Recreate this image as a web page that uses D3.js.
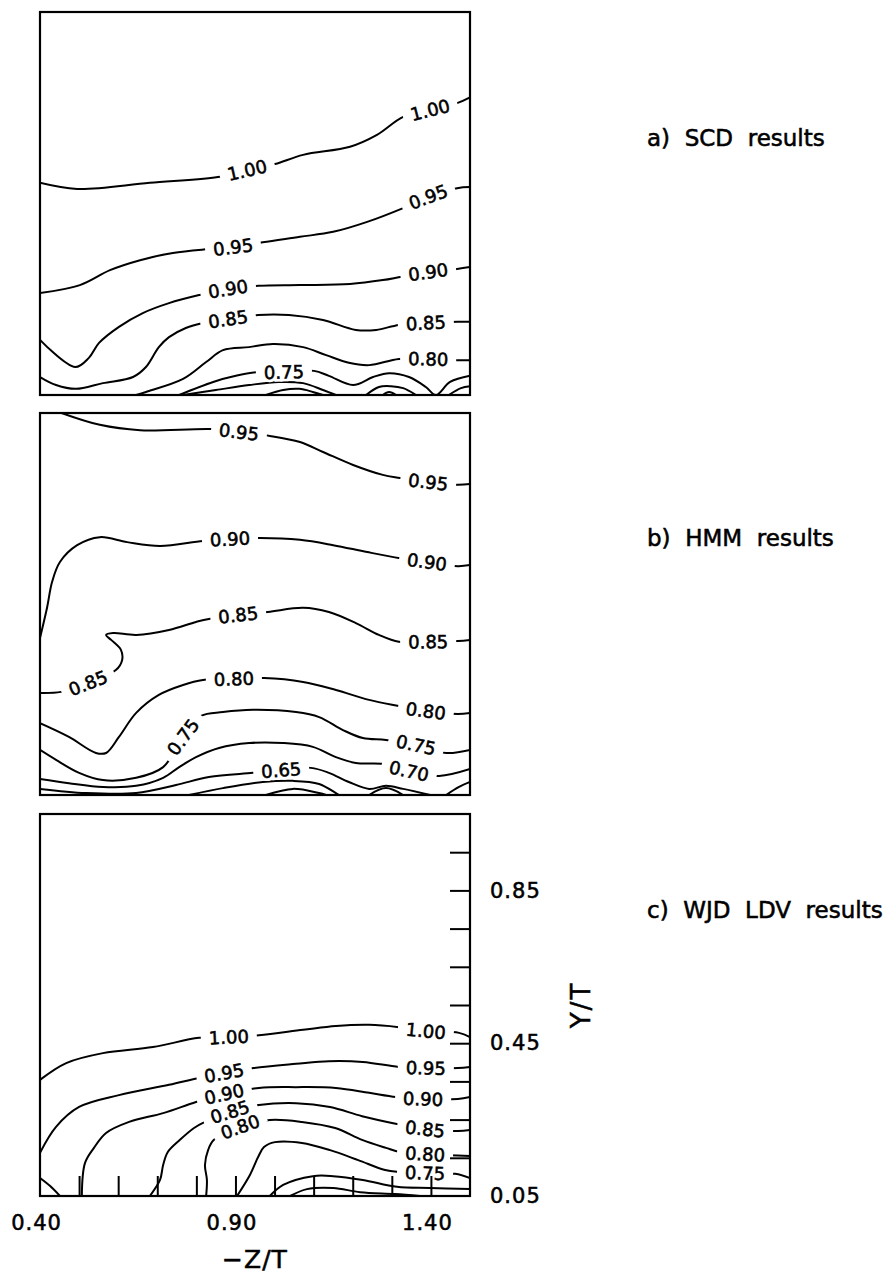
<!DOCTYPE html>
<html><head><meta charset="utf-8">
<script src="https://cdn.jsdelivr.net/npm/d3@7"></script>
<style>
html,body{margin:0;padding:0;background:#fff;}
svg{display:block;}
text{font-family:"DejaVu Sans",sans-serif;fill:#000;}
.ink{stroke:#000;stroke-width:0.55px;}
</style></head><body>
<svg id="chart" width="892" height="1275"></svg>
<script>
// ---------------- data ----------------
const xDomain = [0.40, 1.50];          // -Z/T
const yDomain = [0.05, 1.05];          // Y/T
const xTickLabels = [0.40, 0.90, 1.40];
const xMinorTicks = [0.5, 0.6, 0.7, 0.8, 0.9, 1.0, 1.1, 1.2, 1.3, 1.4];
const yTickLabels = [0.05, 0.45, 0.85];
const yMinorTicks = [0.15, 0.25, 0.35, 0.45, 0.55, 0.65, 0.75, 0.85, 0.95];
const panelTitles = ["a)  SCD  results", "b)  HMM  results", "c)  WJD  LDV  results"];

// a) SCD results : contour lines [z, y]
const scdContours = [
  {level:1.00, pts:[[0.400,0.604],[0.495,0.588],[0.681,0.604],[0.855,0.619],[0.930,0.637],[1.001,0.653],[1.073,0.677],[1.193,0.698],[1.262,0.729],[1.329,0.776],[1.398,0.794],[1.467,0.812],[1.500,0.827]]},
  {level:0.95, pts:[[0.400,0.316],[0.502,0.337],[0.579,0.376],[0.656,0.402],[0.740,0.421],[0.830,0.431],[0.894,0.436],[0.970,0.449],[1.065,0.463],[1.150,0.476],[1.237,0.502],[1.329,0.538],[1.393,0.567],[1.467,0.590],[1.500,0.593]]},
  {level:0.90, pts:[[0.400,0.194],[0.490,0.123],[0.525,0.147],[0.551,0.186],[0.602,0.228],[0.663,0.264],[0.730,0.290],[0.807,0.311],[0.881,0.327],[0.958,0.335],[1.065,0.337],[1.193,0.340],[1.277,0.350],[1.321,0.358],[1.393,0.371],[1.467,0.379],[1.500,0.384]]},
  {level:0.85, pts:[[0.400,0.097],[0.441,0.076],[0.492,0.066],[0.561,0.081],[0.638,0.097],[0.671,0.123],[0.704,0.175],[0.730,0.201],[0.773,0.225],[0.817,0.238],[0.881,0.248],[0.958,0.259],[1.037,0.259],[1.124,0.246],[1.208,0.220],[1.260,0.220],[1.318,0.233],[1.387,0.238],[1.469,0.241],[1.500,0.241]]},
  {level:0.80, pts:[[0.646,0.050],[0.671,0.058],[0.766,0.092],[0.825,0.136],[0.868,0.167],[0.935,0.175],[0.996,0.183],[1.073,0.175],[1.132,0.154],[1.190,0.134],[1.242,0.128],[1.318,0.144],[1.393,0.144],[1.469,0.141],[1.500,0.141]]},
  {level:0.75, pts:[[0.756,0.050],[0.843,0.084],[0.901,0.100],[0.960,0.110],[1.024,0.110],[1.101,0.113],[1.139,0.100],[1.201,0.076],[1.252,0.097],[1.293,0.107],[1.344,0.097],[1.387,0.071],[1.413,0.050],[1.449,0.084],[1.500,0.100]]},
  {level:0.70, pts:[[0.766,0.050],[0.850,0.063],[0.935,0.076],[1.011,0.084],[1.073,0.081],[1.124,0.063],[1.157,0.050]]},
  {level:0.70, pts:[[1.234,0.050],[1.267,0.071],[1.298,0.073],[1.329,0.068],[1.362,0.050]]},
  {level:0.70, pts:[[1.446,0.050],[1.477,0.068],[1.500,0.073]]},
  {level:0.65, pts:[[0.978,0.050],[1.022,0.063],[1.063,0.066],[1.098,0.058],[1.124,0.050]]},
  {level:0.65, pts:[[1.277,0.050],[1.293,0.058],[1.311,0.050]]}
];
const scdLabels = [[1.00,0.930,0.637],[1.00,1.398,0.794],[0.95,0.894,0.436],[0.95,1.393,0.567],
  [0.90,0.881,0.327],[0.90,1.393,0.371],[0.85,0.881,0.248],[0.85,1.387,0.238],[0.80,1.393,0.144],[0.75,1.024,0.110]];

// b) HMM results
const hmmContours = [
  {level:0.95, pts:[[0.455,1.050],[0.553,1.019],[0.656,1.005],[0.843,1.008],[0.909,1.000],[0.988,0.990],[1.065,0.974],[1.124,0.948],[1.201,0.914],[1.277,0.888],[1.321,0.880],[1.393,0.869],[1.469,0.862],[1.500,0.864]]},
  {level:0.90, pts:[[0.400,0.461],[0.418,0.540],[0.431,0.608],[0.451,0.660],[0.495,0.704],[0.553,0.725],[0.623,0.712],[0.707,0.702],[0.817,0.715],[0.886,0.720],[0.963,0.723],[1.065,0.718],[1.150,0.704],[1.237,0.686],[1.321,0.670],[1.390,0.660],[1.469,0.649],[1.500,0.652]]},
  {level:0.85, pts:[[0.400,0.317],[0.454,0.320],[0.523,0.343],[0.594,0.377],[0.610,0.403],[0.607,0.430],[0.582,0.456],[0.569,0.469],[0.587,0.474],[0.646,0.469],[0.730,0.482],[0.799,0.503],[0.832,0.511],[0.907,0.521],[0.983,0.529],[1.073,0.540],[1.139,0.529],[1.208,0.500],[1.267,0.469],[1.318,0.451],[1.393,0.451],[1.469,0.453],[1.500,0.456]]},
  {level:0.80, pts:[[0.400,0.238],[0.474,0.202],[0.543,0.160],[0.569,0.160],[0.602,0.202],[0.646,0.265],[0.704,0.312],[0.766,0.338],[0.817,0.351],[0.896,0.354],[0.973,0.356],[1.073,0.346],[1.157,0.325],[1.242,0.299],[1.318,0.283],[1.387,0.270],[1.469,0.262],[1.500,0.265]]},
  {level:0.75, pts:[[0.400,0.168],[0.441,0.142],[0.500,0.108],[0.561,0.089],[0.646,0.095],[0.715,0.123],[0.766,0.202],[0.812,0.257],[0.868,0.267],[0.945,0.273],[1.055,0.267],[1.114,0.254],[1.175,0.220],[1.226,0.199],[1.285,0.194],[1.362,0.181],[1.439,0.160],[1.500,0.168]]},
  {level:0.70, pts:[[0.400,0.092],[0.474,0.081],[0.561,0.071],[0.646,0.074],[0.715,0.095],[0.756,0.123],[0.799,0.149],[0.858,0.173],[0.935,0.186],[1.022,0.186],[1.098,0.176],[1.157,0.149],[1.208,0.134],[1.285,0.131],[1.344,0.113],[1.421,0.100],[1.500,0.118]]},
  {level:0.65, pts:[[0.400,0.066],[0.518,0.055],[0.646,0.055],[0.748,0.076],[0.832,0.097],[0.945,0.108],[1.017,0.115],[1.093,0.121],[1.139,0.108],[1.190,0.084],[1.242,0.066],[1.285,0.074],[1.329,0.066],[1.398,0.050]]},
  {level:0.65, pts:[[1.439,0.050],[1.472,0.071],[1.500,0.084]]},
  {level:0.60, pts:[[0.781,0.050],[0.868,0.068],[0.970,0.084],[1.047,0.087],[1.114,0.079],[1.157,0.055],[1.165,0.050]]},
  {level:0.60, pts:[[1.242,0.050],[1.285,0.068],[1.329,0.050]]},
  {level:0.55, pts:[[0.978,0.050],[1.047,0.066],[1.114,0.055],[1.132,0.050]]}
];
const hmmLabels = [[0.95,0.909,1.000],[0.95,1.393,0.869],[0.90,0.886,0.720],[0.90,1.390,0.660],
  [0.85,0.523,0.343],[0.85,0.907,0.521],[0.85,1.393,0.451],[0.80,0.896,0.354],[0.80,1.387,0.270],
  [0.75,0.766,0.202],[0.75,1.362,0.181],[0.70,1.344,0.113],[0.65,1.017,0.115]];

// c) WJD LDV results
const ldvContours = [
  {level:1.00, pts:[[0.400,0.354],[0.467,0.398],[0.561,0.424],[0.689,0.440],[0.807,0.464],[0.883,0.466],[0.960,0.471],[1.073,0.485],[1.157,0.495],[1.242,0.498],[1.318,0.492],[1.387,0.482],[1.472,0.477],[1.500,0.466]]},
  {level:0.95, pts:[[0.400,0.163],[0.441,0.231],[0.500,0.283],[0.602,0.314],[0.730,0.341],[0.807,0.359],[0.871,0.372],[0.947,0.385],[1.055,0.396],[1.139,0.403],[1.226,0.401],[1.318,0.388],[1.387,0.385],[1.469,0.385],[1.500,0.388]]},
  {level:0.90, pts:[[0.507,0.050],[0.515,0.136],[0.538,0.176],[0.569,0.215],[0.628,0.244],[0.715,0.267],[0.799,0.296],[0.871,0.317],[0.960,0.333],[1.055,0.335],[1.157,0.333],[1.242,0.320],[1.311,0.309],[1.380,0.304],[1.469,0.304],[1.500,0.309]]},
  {level:0.90, pts:[[0.400,0.097],[0.426,0.076],[0.451,0.050]]},
  {level:0.85, pts:[[0.681,0.050],[0.707,0.092],[0.715,0.131],[0.727,0.165],[0.758,0.197],[0.794,0.228],[0.822,0.244],[0.886,0.270],[0.960,0.288],[1.055,0.293],[1.142,0.283],[1.224,0.259],[1.316,0.238],[1.385,0.225],[1.469,0.220],[1.500,0.223]]},
  {level:0.80, pts:[[0.825,0.050],[0.827,0.092],[0.822,0.131],[0.830,0.170],[0.845,0.197],[0.912,0.231],[0.988,0.249],[1.070,0.244],[1.155,0.228],[1.224,0.197],[1.285,0.176],[1.321,0.165],[1.385,0.160],[1.446,0.157],[1.500,0.155]]},
  {level:0.75, pts:[[0.904,0.050],[0.937,0.105],[0.958,0.152],[0.973,0.178],[1.001,0.191],[1.070,0.189],[1.142,0.170],[1.214,0.144],[1.283,0.118],[1.321,0.113],[1.385,0.110],[1.462,0.108],[1.500,0.097]]},
  {level:0.70, pts:[[0.988,0.050],[1.022,0.079],[1.098,0.102],[1.150,0.102],[1.226,0.092],[1.313,0.074],[1.398,0.071],[1.500,0.068]]},
  {level:0.65, pts:[[1.040,0.050],[1.083,0.068],[1.150,0.071],[1.219,0.060],[1.308,0.055],[1.372,0.050]]}
];
const ldvLabels = [[1.00,0.883,0.466],[1.00,1.387,0.482],[0.95,0.871,0.372],[0.95,1.387,0.385],
  [0.90,0.871,0.317],[0.90,1.380,0.304],[0.85,0.886,0.270],[0.85,1.385,0.225],
  [0.80,0.912,0.231],[0.80,1.385,0.160],[0.75,1.385,0.110]];

// ---------------- drawing ----------------
const svg = d3.select("#chart");
const plotLeft = 40, plotRight = 470;
const x = d3.scaleLinear().domain(xDomain).range([plotLeft, plotRight]);
const fmt = d3.format(".2f");

const panels = [
  {contours: scdContours, labels: scdLabels, top: 12,  bottom: 395,  titleY: 146},
  {contours: hmmContours, labels: hmmLabels, top: 413, bottom: 795,  titleY: 546},
  {contours: ldvContours, labels: ldvLabels, top: 814, bottom: 1196, titleY: 918}
];

const defs = svg.append("defs");
let yC;
panels.forEach((p, i) => {
  const y = d3.scaleLinear().domain(yDomain).range([p.bottom, p.top]);
  if (i === 2) yC = y;
  const g = svg.append("g");
  defs.append("clipPath").attr("id", "clip" + i).append("rect")
    .attr("x", plotLeft).attr("y", p.top).attr("width", plotRight - plotLeft).attr("height", p.bottom - p.top);

  const line = d3.line().x(d => x(d[0])).y(d => y(d[1])).curve(d3.curveCatmullRom.alpha(0.5));
  g.append("g").attr("clip-path", `url(#clip${i})`)
    .selectAll("path").data(p.contours).join("path")
    .attr("d", d => line(d.pts))
    .attr("fill", "none").attr("stroke", "#000").attr("stroke-width", 2)
    .attr("stroke-linejoin", "round").attr("stroke-linecap", "round");

  // inline labels
  p.labels.forEach(([lev, lz, ly]) => {
    const px = x(lz), py = y(ly);
    let best = null, bd = Infinity;
    p.contours.filter(c => c.level === lev).forEach(c => {
      c.pts.forEach((pt, k) => {
        const dx = x(pt[0]) - px, dy = y(pt[1]) - py, dd = dx * dx + dy * dy;
        if (dd < bd) { bd = dd; best = {c, k}; }
      });
    });
    let ang = 0;
    if (best) {
      const pts = best.c.pts;
      const a = pts[Math.max(0, best.k - 1)], b = pts[Math.min(pts.length - 1, best.k + 1)];
      ang = Math.atan2(y(b[1]) - y(a[1]), x(b[0]) - x(a[0])) * 180 / Math.PI;
      if (ang > 90) ang -= 180;
      if (ang < -90) ang += 180;
    }
    const lg = g.append("g").attr("transform", `translate(${px},${py}) rotate(${ang})`);
    const halo = lg.append("text").attr("text-anchor", "middle").attr("dy", "0.36em")
      .style("font-size", "18px")
      .attr("stroke", "#fff").attr("stroke-width", 6)
      .text(fmt(lev));
    const bb = halo.node().getBBox();
    lg.insert("rect", "text").attr("x", -bb.width / 2 - 8).attr("y", -4)
      .attr("width", bb.width + 16).attr("height", 8).attr("fill", "#fff");
    lg.append("text").attr("class", "ink").attr("text-anchor", "middle").attr("dy", "0.36em")
      .style("font-size", "18px").text(fmt(lev));
  });

  // frame
  g.append("rect").attr("x", plotLeft).attr("y", p.top)
    .attr("width", plotRight - plotLeft).attr("height", p.bottom - p.top)
    .attr("fill", "none").attr("stroke", "#000").attr("stroke-width", 2.2);

  // panel title
  svg.append("text").attr("class", "ink").attr("x", 647).attr("y", p.titleY)
    .style("font-size", "23px").style("white-space", "pre")
    .text(panelTitles[i]);
});

// axes on panel c
const pc = panels[2];
const tickStyle = sel => { sel.select(".domain").remove(); sel.selectAll("line").attr("stroke", "#000").attr("stroke-width", 2); };
const labelStyle = sel => {
  sel.select(".domain").remove();
  sel.selectAll("text").attr("class", "ink").style("font-size", "21px").style("letter-spacing", "1px")
    .attr("fill", "#000").style("font-family", '"DejaVu Sans",sans-serif');
};

svg.append("g").attr("transform", `translate(${plotRight},0)`)
  .call(d3.axisLeft(yC).tickValues(yMinorTicks).tickSize(20).tickFormat(""))
  .call(tickStyle);
svg.append("g").attr("transform", `translate(0,${pc.bottom})`)
  .call(d3.axisTop(x).tickValues(xMinorTicks).tickSize(20).tickFormat(""))
  .call(tickStyle);

svg.append("g").attr("transform", `translate(${plotRight},0)`)
  .call(d3.axisRight(yC).tickValues(yTickLabels).tickSize(0).tickPadding(20).tickFormat(fmt))
  .call(labelStyle);
svg.append("g").attr("transform", `translate(-4,${pc.bottom})`)
  .call(d3.axisBottom(x).tickValues(xTickLabels).tickSize(0).tickPadding(19).tickFormat(fmt))
  .call(labelStyle);

// axis titles
svg.append("text").attr("class", "ink").attr("x", (plotLeft + plotRight) / 2).attr("y", 1268)
  .attr("text-anchor", "middle").style("font-size", "25px").style("letter-spacing", "1px")
  .text("\u2212Z/T");
svg.append("text").attr("class", "ink").attr("transform", "translate(590,1005) rotate(-90)")
  .attr("text-anchor", "middle").style("font-size", "26px").style("letter-spacing", "2px")
  .text("Y/T");
</script>
</body></html>
